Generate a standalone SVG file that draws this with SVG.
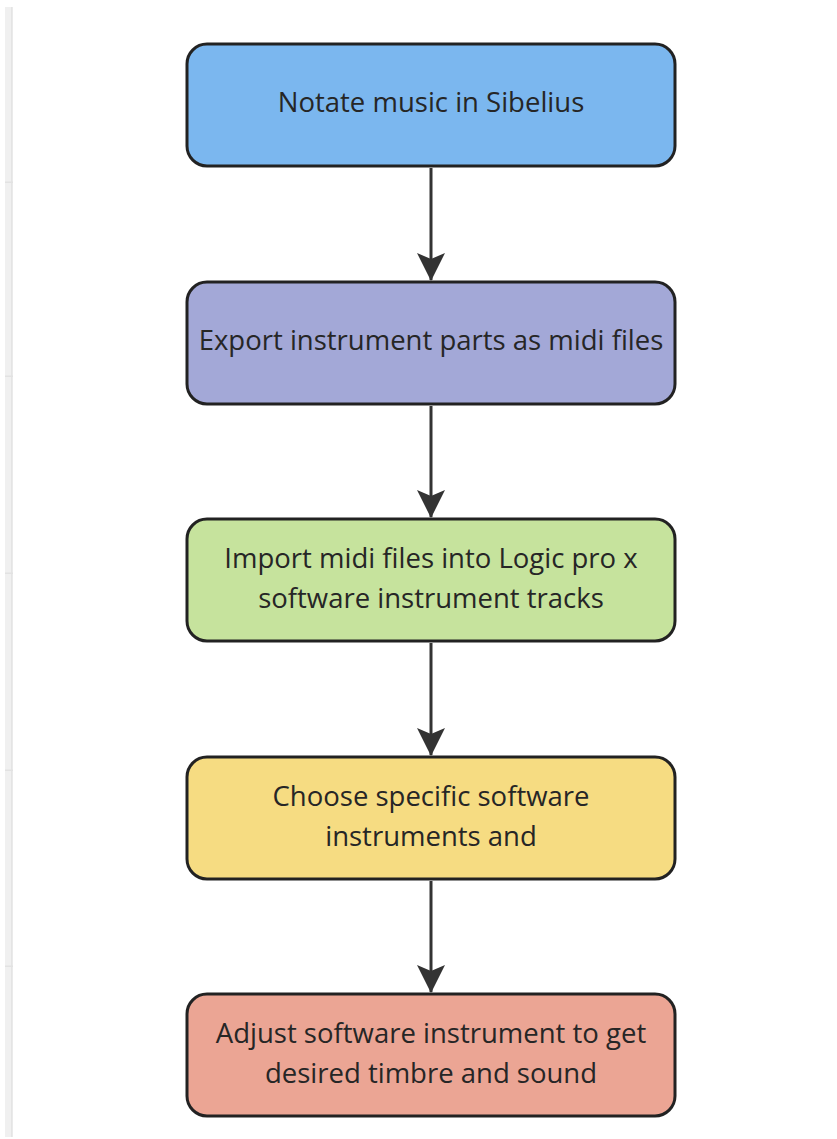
<svg xmlns="http://www.w3.org/2000/svg" width="837" height="1139" viewBox="0 0 837 1139">
<style>
.node rect{stroke:#222;stroke-width:3}
.node text{font-family:"Open Sans","Liberation Sans",sans-serif;font-size:27.5px;fill:#262626;text-anchor:middle}
.conn line{stroke:#333;stroke-width:3}
</style>
<defs>
<marker id="ah2" markerWidth="30" markerHeight="30" refX="27" refY="15" orient="auto" markerUnits="userSpaceOnUse">
<path d="M0,1 L28,15 L0,29 L6,15 Z" fill="#333"/>
</marker>
</defs>
<rect x="0" y="0" width="837" height="1139" fill="#fff"/>
<g id="sidebar">
<rect x="5" y="7" width="8" height="1130" fill="#f0f0f0"/>
<rect x="11" y="7" width="1.5" height="1130" fill="#e4e4e4"/>
<rect x="5" y="181.5" width="8" height="1.5" fill="#e2e2e2"/>
<rect x="5" y="375.5" width="8" height="1.5" fill="#e2e2e2"/>
<rect x="5" y="572.5" width="8" height="1.5" fill="#e2e2e2"/>
<rect x="5" y="769.5" width="8" height="1.5" fill="#e2e2e2"/>
<rect x="5" y="965.5" width="8" height="1.5" fill="#e2e2e2"/>
</g>
<g id="connectors" class="conn">
<line x1="431" y1="168" x2="431" y2="280" marker-end="url(#ah2)"/>
<line x1="431" y1="406" x2="431" y2="517" marker-end="url(#ah2)"/>
<line x1="431" y1="643" x2="431" y2="755" marker-end="url(#ah2)"/>
<line x1="431" y1="881" x2="431" y2="992" marker-end="url(#ah2)"/>
</g>
<g id="n1" class="node">
<rect x="187" y="44" width="488" height="122" rx="20" fill="#7bb7ef"/>
<text x="431" y="112">Notate music in Sibelius</text>
</g>
<g id="n2" class="node">
<rect x="187" y="282" width="488" height="122" rx="20" fill="#a3a8d7"/>
<text x="431" y="350">Export instrument parts as midi files</text>
</g>
<g id="n3" class="node">
<rect x="187" y="519" width="488" height="122" rx="20" fill="#c6e39d"/>
<text x="431" y="568">Import midi files into Logic pro x</text>
<text x="431" y="608">software instrument tracks</text>
</g>
<g id="n4" class="node">
<rect x="187" y="757" width="488" height="122" rx="20" fill="#f6dc82"/>
<text x="431" y="806">Choose specific software</text>
<text x="431" y="846">instruments and</text>
</g>
<g id="n5" class="node">
<rect x="187" y="994" width="488" height="122" rx="20" fill="#eba594"/>
<text x="431" y="1043">Adjust software instrument to get</text>
<text x="431" y="1083">desired timbre and sound</text>
</g>
</svg>
